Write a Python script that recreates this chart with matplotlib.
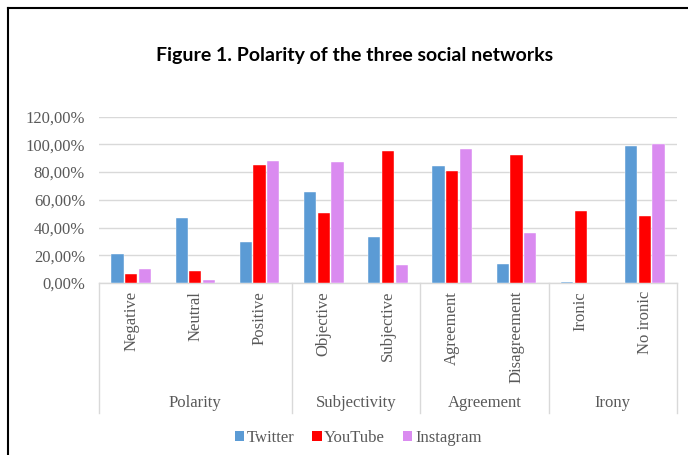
import numpy as np
import matplotlib
matplotlib.use("Agg")
import matplotlib.pyplot as plt
from matplotlib.patches import Patch
import matplotlib.transforms as mtransforms

# data
categories = ['Negative', 'Neutral', 'Positive', 'Objective', 'Subjective',
              'Agreement', 'Disagreement', 'Ironic', 'No ironic']
groups = ['Polarity', 'Subjectivity', 'Agreement', 'Irony']
group_sizes = [3, 2, 2, 2]
series = ['Twitter', 'YouTube', 'Instagram']
twitter = [20.7, 47.2, 29.9, 65.8, 33.5, 84.3, 14.0, 1.0, 99.0]
youtube = [6.3, 8.7, 85.1, 50.6, 94.9, 81.0, 92.3, 51.6, 48.4]
instagram = [9.9, 1.9, 88.2, 87.0, 13.3, 96.4, 36.4, 0.0, 100.0]
colors = ['#5B9BD5', '#FF0000', '#DA8BF0']
yticks = [0, 20, 40, 60, 80, 100, 120]

serif = 'Liberation Serif'
fs = 12
grey = '#595959'
line_grey = '#D9D9D9'

W, H = 688, 455
fig = plt.figure(figsize=(W / 100, H / 100), dpi=100)

# axes box in pixel coordinates
left, right, top, bottom = 99, 677, 116.7, 283
ax = fig.add_axes([left / W, 1 - bottom / H, (right - left) / W, (bottom - top) / H])

x = np.arange(len(categories))
bw = 0.19
step = 0.213
for i, (vals, c, name) in enumerate(zip([twitter, youtube, instagram], colors, series)):
    ax.bar(x + (i - 1) * step, vals, width=bw, color=c, label=name,
           edgecolor='white', linewidth=0.3, zorder=3)

ax.set_xlim(-0.5, len(categories) - 0.5)
ax.set_ylim(0, 120)
ax.set_yticks(yticks)
ax.set_yticklabels([f'{v},00%' for v in yticks], fontfamily=serif, fontsize=fs, color=grey)
ax.tick_params(axis='y', length=0, pad=10)
ax.set_xticks([])
ax.grid(axis='y', color=line_grey, linewidth=1, zorder=0)
for s in ['top', 'right', 'left']:
    ax.spines[s].set_visible(False)
ax.spines['bottom'].set_color(line_grey)
ax.spines['bottom'].set_linewidth(1)

# category labels (rotated) and group labels below the axis
trans = mtransforms.blended_transform_factory(ax.transData, fig.transFigure)
for xi, lab in zip(x, categories):
    ax.text(xi, 1 - 291 / H, lab, rotation=90, ha='center', va='top',
            transform=trans, fontfamily=serif, fontsize=fs, color=grey)

edges = np.concatenate([[0], np.cumsum(group_sizes)]) - 0.5
for j, g in enumerate(groups):
    mid = (edges[j] + edges[j + 1]) / 2
    ax.text(mid, 1 - 403 / H, g, ha='center', va='center', transform=trans,
            fontfamily=serif, fontsize=fs, color=grey)
for e in edges:
    ax.plot([e, e], [1 - bottom / H, 1 - 413 / H], color=line_grey, linewidth=1,
            transform=trans, clip_on=False)

# title
fig.text(355 / W, 1 - 55 / H, 'Figure 1. Polarity of the three social networks',
         ha='center', va='center', fontfamily='Lato', fontweight='bold', fontsize=14)

# legend
handles = [Patch(facecolor=c, label=n) for c, n in zip(colors, series)]
leg = fig.legend(handles=handles, loc='center', bbox_to_anchor=(358 / W, 1 - 438 / H),
                 ncol=3, frameon=False, handlelength=0.55, handleheight=0.55,
                 handletextpad=0.15, columnspacing=1.1,
                 prop={'family': serif, 'size': fs})
for t in leg.get_texts():
    t.set_color(grey)

# frame lines on the left and the top of the picture
fig.add_artist(plt.Line2D([8 / W, 8 / W], [0, 1 - 8 / H], color='black', linewidth=1.5))
fig.add_artist(plt.Line2D([8 / W, 1], [1 - 8 / H, 1 - 8 / H], color='black', linewidth=1.5))

fig.savefig('out.png', dpi=100)
